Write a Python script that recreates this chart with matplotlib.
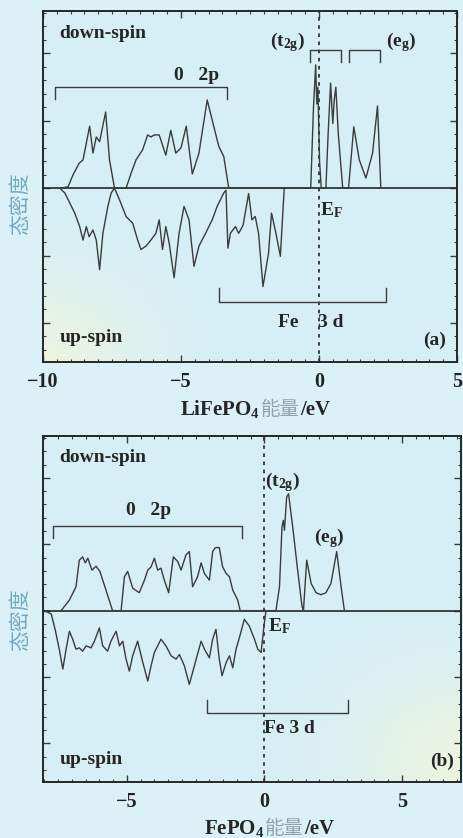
import matplotlib
matplotlib.use("Agg")
import matplotlib.pyplot as plt
from matplotlib.ticker import MultipleLocator
from matplotlib.text import Annotation
import numpy as np

plt.rcParams['font.family'] = ['Liberation Serif', 'DejaVu Serif', 'Noto Sans CJK SC']
plt.rcParams['font.weight'] = 'bold'
plt.rcParams['mathtext.fontset'] = 'custom'
plt.rcParams['mathtext.rm'] = 'Liberation Serif:bold'
plt.rcParams['mathtext.bf'] = 'Liberation Serif:bold'
plt.rcParams['mathtext.it'] = 'Liberation Serif:bold'

# ---------------- data: panel (a) LiFePO4 ----------------
a_dn_x = [-9.39, -9.09, -8.91, -8.69, -8.55, -8.43, -8.31, -8.19, -8.07, -7.95, -7.73, -7.59, -7.41,
          -6.99, -6.81, -6.63, -6.39, -6.21, -6.09, -5.97, -5.79, -5.55, -5.37, -5.19, -5.00, -4.81,
          -4.59, -4.35, -4.05, -3.87, -3.63, -3.45, -3.27,
          -0.30, -0.20, -0.12, -0.08, -0.04, 0.02, 0.08, 0.25, 0.33, 0.42, 0.50, 0.55, 0.61, 0.70,
          0.86, 1.07, 1.26, 1.46, 1.70, 1.94, 2.12, 2.24]
a_dn_y = [0.00, 0.02, 0.20, 0.37, 0.42, 0.67, 0.92, 0.52, 0.76, 0.69, 1.13, 0.42, 0.00,
          0.00, 0.22, 0.42, 0.57, 0.79, 0.76, 0.79, 0.79, 0.49, 0.86, 0.52, 0.60, 0.92,
          0.21, 0.52, 1.31, 1.01, 0.62, 0.47, 0.00,
          0.00, 1.20, 1.83, 1.25, 1.50, 0.40, 0.00, 0.00, 0.80, 1.56, 0.96, 1.30, 1.50, 0.80,
          0.00, 0.00, 0.91, 0.42, 0.15, 0.52, 1.22, 0.00]

a_up_x = [-9.39, -9.21, -9.03, -8.85, -8.67, -8.55, -8.43, -8.33, -8.19, -8.07, -7.95, -7.83, -7.65,
          -7.53, -7.41, -7.23, -6.99, -6.75, -6.57, -6.45, -6.27, -6.09, -5.91, -5.79, -5.67, -5.55,
          -5.43, -5.25, -5.07, -4.89, -4.71, -4.53, -4.35, -4.11, -3.87, -3.69, -3.45, -3.37,
          -3.30, -3.21, -3.03, -2.91, -2.75, -2.55, -2.43, -2.31, -2.19, -2.03, -1.83, -1.72,
          -1.56, -1.40, -1.26]
a_up_y = [0.00, -0.07, -0.22, -0.37, -0.57, -0.77, -0.57, -0.72, -0.62, -0.77, -1.21, -0.67, -0.27,
          -0.07, 0.00, -0.17, -0.42, -0.52, -0.77, -0.91, -0.86, -0.77, -0.67, -0.47, -0.91, -0.57,
          -0.81, -1.33, -0.67, -0.27, -0.47, -1.16, -0.86, -0.67, -0.47, -0.27, -0.07, -0.03,
          -0.89, -0.67, -0.57, -0.67, -0.55, -0.08, -0.47, -0.42, -0.67, -1.46, -0.97, -0.37,
          -0.67, -1.01, 0.00]

# ---------------- data: panel (b) FePO4 ----------------
b_dn_x = [-7.39, -7.09, -6.85, -6.73, -6.61, -6.51, -6.42, -6.27, -6.12, -5.98, -5.76, -5.52,
          -5.21, -5.09, -4.97, -4.79, -4.55, -4.36, -4.24, -4.12, -4.00, -3.88, -3.76, -3.64,
          -3.48, -3.31, -3.15, -3.03, -2.85, -2.73, -2.61, -2.43, -2.30, -2.18, -2.00, -1.88,
          -1.78, -1.64, -1.52, -1.39, -1.27, -1.15, -0.97, -0.88,
          0.42, 0.55, 0.64, 0.69, 0.73, 0.81, 0.88, 1.03, 1.21, 1.37, 1.42, 1.54, 1.70, 1.88,
          2.06, 2.24, 2.42, 2.63, 2.79, 2.91]
b_dn_y = [0.00, 0.16, 0.36, 0.76, 0.81, 0.72, 0.79, 0.61, 0.67, 0.59, 0.31, 0.00,
          0.00, 0.51, 0.59, 0.34, 0.27, 0.46, 0.61, 0.66, 0.79, 0.61, 0.64, 0.46,
          0.27, 0.81, 0.74, 0.61, 0.84, 0.89, 0.36, 0.51, 0.72, 0.56, 0.46, 0.89,
          0.95, 0.95, 0.66, 0.56, 0.51, 0.31, 0.16, 0.00,
          0.00, 0.36, 1.26, 1.36, 1.21, 1.71, 1.76, 1.26, 0.61, 0.06, 0.00, 0.76, 0.41, 0.27,
          0.24, 0.27, 0.41, 0.89, 0.36, 0.00]

b_up_x = [-8.00, -7.75, -7.60, -7.45, -7.33, -7.21, -7.09, -6.97, -6.85, -6.73, -6.61, -6.48,
          -6.30, -6.18, -6.00, -5.88, -5.70, -5.58, -5.39, -5.27, -5.15, -5.03, -4.91, -4.79,
          -4.61, -4.42, -4.24, -4.12, -4.00, -3.76, -3.58, -3.39, -3.21, -3.09, -2.91, -2.73,
          -2.61, -2.48, -2.30, -2.18, -2.00, -1.88, -1.76, -1.64, -1.54, -1.39, -1.27, -1.15,
          -1.03, -0.91, -0.73, -0.55, -0.36, -0.24, -0.12, 0.00, 0.06]
b_up_y = [0.00, -0.05, -0.30, -0.60, -0.88, -0.58, -0.31, -0.43, -0.58, -0.56, -0.61, -0.53,
          -0.56, -0.46, -0.26, -0.53, -0.61, -0.46, -0.31, -0.53, -0.46, -0.73, -0.91, -0.68,
          -0.46, -0.78, -1.06, -0.83, -0.63, -0.43, -0.53, -0.68, -0.73, -0.66, -0.83, -1.11,
          -0.93, -0.73, -0.46, -0.58, -0.71, -0.43, -0.28, -0.73, -0.98, -0.78, -0.68, -0.86,
          -0.58, -0.41, -0.13, -0.23, -0.43, -0.58, -0.63, -0.18, 0.00]

x_ticks_a = [-10, -5, 0, 5]
x_ticks_b = [-5, 0, 5]

line_c = '#3b3b3b'
bg_fig = '#dcf1f7'
bg_ax = '#d6eff6'
ylab_c = '#72a9c4'
cjk_c = '#8ea3ae'

fig = plt.figure(figsize=(4.63, 8.38), dpi=100, facecolor=bg_fig)


def tint(ax, cx, cy, r):
    # soft yellowish tint of the scanned paper (background only)
    n = 200
    gx, gy = np.meshgrid(np.linspace(0, 1, n), np.linspace(0, 1, n))
    d = np.sqrt(((gx - cx) / r) ** 2 + ((gy - cy) / r) ** 2)
    a = np.clip(1 - d, 0, 1) ** 1.5 * 0.75
    img = np.zeros((n, n, 4))
    img[..., 0] = 0.97
    img[..., 1] = 0.97
    img[..., 2] = 0.84
    img[..., 3] = a
    ax.imshow(img, extent=(0, 1, 0, 1), transform=ax.transAxes, origin='lower',
              aspect='auto', zorder=0, interpolation='bilinear')


def setup(ax, xlim, xticks):
    ax.set_facecolor(bg_ax)
    ax.set_xlim(*xlim)
    ax.set_ylim(-2.58, 2.63)
    ax.set_xticks(xticks)
    ax.set_xticklabels([('\u2212%d' % -t) if t < 0 else '%d' % t for t in xticks])
    ax.xaxis.set_minor_locator(MultipleLocator(0.5))
    ax.yaxis.set_major_locator(MultipleLocator(1))
    ax.yaxis.set_minor_locator(MultipleLocator(0.2))
    ax.set_yticklabels([])
    ax.tick_params(which='both', direction='in', top=True, right=True, color=line_c)
    ax.tick_params(which='major', length=5, width=1.0)
    ax.tick_params(which='minor', length=2.5, width=0.8)
    ax.tick_params(axis='x', which='major', labelsize=14.5, pad=7, labelcolor='#222222')
    for s in ax.spines.values():
        s.set_linewidth(1.4)
        s.set_color('#262626')
        s.set_zorder(5)
    ax.axhline(0, color='#262626', lw=1.2)
    ax.axvline(0, color='#333333', lw=1.3, ls=(0, (2, 2.5)))


def bracket(ax, x0, x1, y, h):
    ax.plot([x0, x0, x1, x1], [y + h, y, y, y + h], color=line_c, lw=1.0)


tkw = dict(fontsize=14, fontweight='bold', color='#262626')
ylab_kw = dict(rotation=90, ha='center', va='center', fontsize=15, color=ylab_c,
               family=['Noto Sans CJK SC'], fontweight='normal')

# ---------------- panel (a) ----------------
ax1 = fig.add_axes([43 / 463, 1 - 362 / 838, 414 / 463, 351 / 838])
setup(ax1, (-10, 4.9), x_ticks_a)
tint(ax1, 0.0, 0.0, 0.45)
ax1.plot(a_dn_x, a_dn_y, color=line_c, lw=1.0)
ax1.plot(a_up_x, a_up_y, color=line_c, lw=1.0)
bracket(ax1, -9.57, -3.33, 1.50, -0.17)
bracket(ax1, -3.63, 2.42, -1.69, 0.21)
bracket(ax1, -0.33, 0.78, 2.05, -0.17)
bracket(ax1, 1.08, 2.22, 2.05, -0.17)
ax1.text(-4.45, 1.68, '0   2p', ha='center', va='center', **tkw)
ax1.text(-0.30, -2.0, 'Fe    3 d', ha='center', va='center', **tkw)
ax1.text(-1.15, 2.17, r'(t$_{\mathrm{2g}}$)', ha='center', va='center', **tkw)
ax1.text(2.96, 2.17, r'(e$_{\mathrm{g}}$)', ha='center', va='center', **tkw)
ax1.text(0.44, -0.32, r'E$_{\mathrm{F}}$', ha='center', va='center', **tkw)
ax1.text(-9.4, 2.30, 'down-spin', ha='left', va='center', **tkw)
ax1.text(-9.4, -2.22, 'up-spin', ha='left', va='center', **tkw)
ax1.text(4.6, -2.26, '(a)', ha='right', va='center', **tkw)
ax1.text(-0.055, 0.45, '态密度', transform=ax1.transAxes, **ylab_kw)

# ---------------- panel (b) ----------------
ax2 = fig.add_axes([43 / 463, 1 - 782 / 838, 418 / 463, 346 / 838])
setup(ax2, (-8.05, 7.15), x_ticks_b)
tint(ax2, 1.0, 0.05, 0.5)
ax2.plot(b_dn_x, b_dn_y, color=line_c, lw=1.0)
ax2.plot(b_up_x, b_up_y, color=line_c, lw=1.0)
bracket(ax2, -7.70, -0.82, 1.28, -0.18)
bracket(ax2, -2.10, 3.03, -1.54, 0.20)
ax2.text(-4.22, 1.51, '0   2p', ha='center', va='center', **tkw)
ax2.text(0.0, -1.77, 'Fe 3 d', ha='left', va='center', **tkw)
ax2.text(0.67, 1.94, r'(t$_{\mathrm{2g}}$)', ha='center', va='center', **tkw)
ax2.text(2.36, 1.09, r'(e$_{\mathrm{g}}$)', ha='center', va='center', **tkw)
ax2.text(0.55, -0.24, r'E$_{\mathrm{F}}$', ha='center', va='center', **tkw)
ax2.text(-7.45, 2.30, 'down-spin', ha='left', va='center', **tkw)
ax2.text(-7.43, -2.24, 'up-spin', ha='left', va='center', **tkw)
ax2.text(6.9, -2.27, '(b)', ha='right', va='center', **tkw)
ax2.text(-0.055, 0.47, '态密度', transform=ax2.transAxes, **ylab_kw)


# ---------------- x labels (mixed colour) ----------------
def mixed_label(x_px, y_px, chem):
    t1 = fig.text(x_px / 463, 1 - y_px / 838, chem + ' ', ha='left', va='baseline',
                  fontsize=15, fontweight='bold', color='#262626')
    t2 = fig.add_artist(Annotation('能量', xy=(1, 0), xycoords=t1, va='bottom', ha='left',
                                   fontsize=14, color=cjk_c, family=['Noto Sans CJK SC'],
                                   fontweight='normal'))
    fig.add_artist(Annotation('/eV', xy=(1, 0), xycoords=t2, va='bottom', ha='left',
                              fontsize=15, fontweight='bold', color='#262626'))


mixed_label(180, 415, 'LiFePO$_4$')
mixed_label(204, 834, 'FePO$_4$')

fig.savefig('out.png', dpi=100, facecolor=bg_fig)
